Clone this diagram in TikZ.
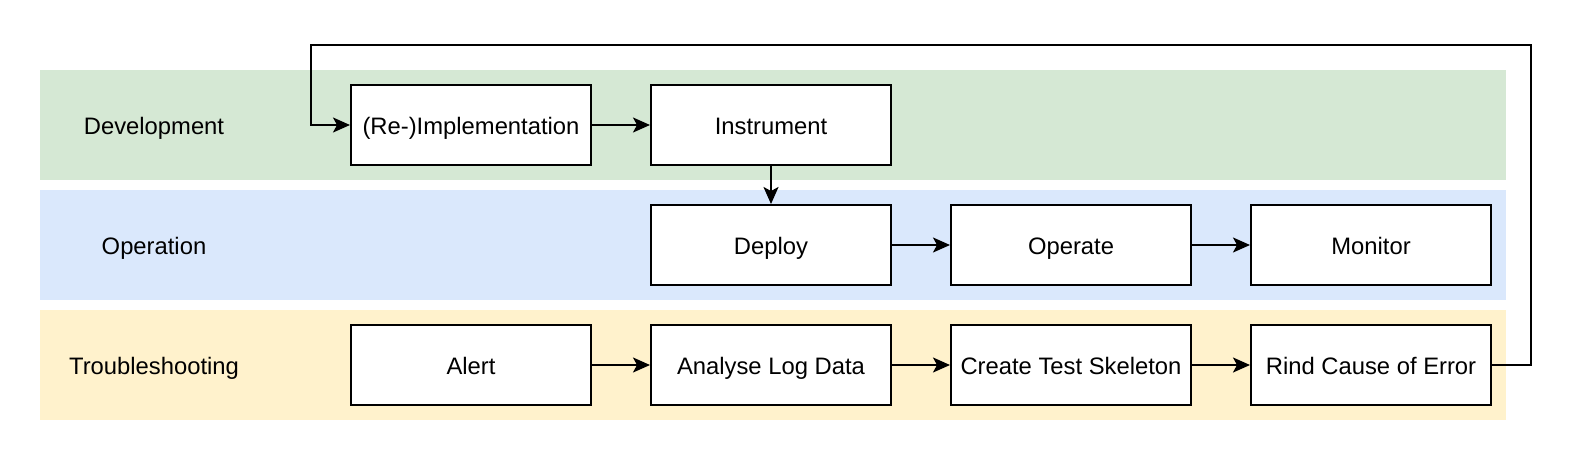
\documentclass[tikz,border=0pt]{standalone}
\usepackage{fontspec}
\setmainfont{Liberation Sans}
\usetikzlibrary{arrows.meta}
\definecolor{devgreen}{HTML}{D5E8D4}
\definecolor{opblue}{HTML}{DAE8FC}
\definecolor{tryellow}{HTML}{FFF2CC}
\tikzset{
  band/.style={draw=none, inner sep=0pt, minimum width=1466pt, minimum height=110pt, anchor=north west},
  stepbox/.style={draw=black, line width=2pt, fill=white, minimum width=240pt, minimum height=80pt, inner sep=0pt,
    text height=22pt, text depth=4pt, font=\fontsize{23.8}{28}\selectfont},
  lanelabel/.style={font=\fontsize{23.8}{28}\selectfont, inner sep=0pt, text height=22pt, text depth=4pt},
  arr/.style={line width=2pt, -{Stealth[length=17pt, width=15pt, inset=4pt]}}
}
\begin{document}
\begin{tikzpicture}[x=1pt,y=-1pt]
\useasboundingbox (0,0) rectangle (1578,460);
\node[band, fill=devgreen] (bdev) at (40,70) {};
\node[band, fill=opblue] (bop) at (40,190) {};
\node[band, fill=tryellow] (btr) at (40,310) {};
\node[lanelabel] (ldev) at (154,125) {Development};
\node[lanelabel] (lop) at (154,245) {Operation};
\node[lanelabel] (ltr) at (154,365) {Troubleshooting};

\node[stepbox] (impl) at (471,125) {(Re-)Implementation};
\node[stepbox] (instr) at (771,125) {Instrument};
\node[stepbox] (deploy) at (771,245) {Deploy};
\node[stepbox] (operate) at (1071,245) {Operate};
\node[stepbox] (monitor) at (1371,245) {Monitor};
\node[stepbox] (alert) at (471,365) {Alert};
\node[stepbox] (analyse) at (771,365) {Analyse Log Data};
\node[stepbox] (create) at (1071,365) {Create Test Skeleton};
\node[stepbox] (rind) at (1371,365) {Rind Cause of Error};

\coordinate (lr) at (1531,45);
\coordinate (ll) at (311,45);

\draw[arr] (impl) -- (instr);
\draw[arr] (instr) -- (deploy);
\draw[arr] (deploy) -- (operate);
\draw[arr] (operate) -- (monitor);
\draw[arr] (alert) -- (analyse);
\draw[arr] (analyse) -- (create);
\draw[arr] (create) -- (rind);
\draw[arr] (rind.east) -| (lr) -- (ll) |- (impl.west);
\end{tikzpicture}
\end{document}
